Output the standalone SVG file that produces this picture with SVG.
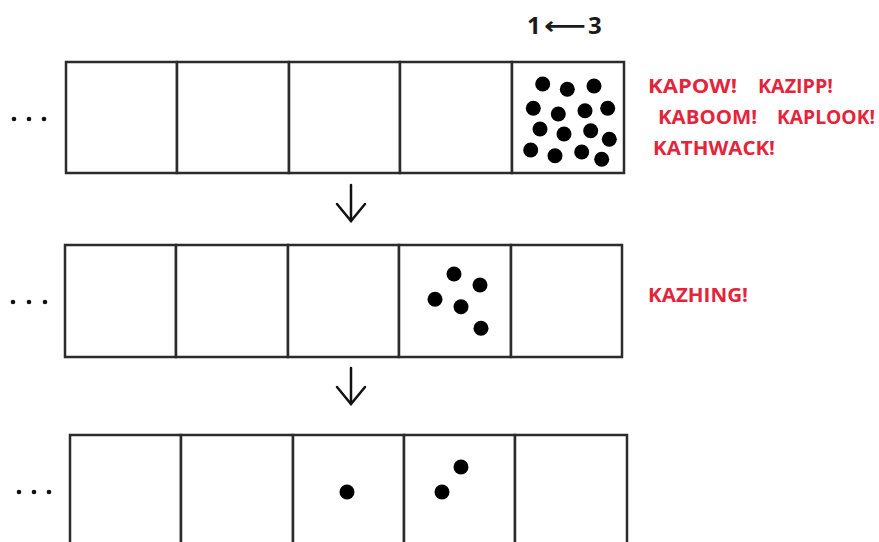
<svg xmlns="http://www.w3.org/2000/svg" width="879" height="542" viewBox="0 0 879 542">
  <style>
    .cell { fill: #ffffff; stroke: #2b2b2b; stroke-width: 2.5; }
    .ball { fill: #000000; }
    .ell { fill: #111111; }
    .snd { font-family: "Open Sans", "Liberation Sans", sans-serif; font-weight: bold; font-size: 20px; fill: #e3243b; }
    .lbl { font-family: "Open Sans", "Liberation Sans", sans-serif; font-weight: bold; font-size: 24px; fill: #1a1a1a; }
    .conn { fill: none; stroke: #111111; stroke-width: 2.5; stroke-linecap: round; stroke-linejoin: round; }
  </style>
  <defs>
    <marker id="chev" markerUnits="userSpaceOnUse" markerWidth="40" markerHeight="40" refX="0" refY="0" orient="auto" overflow="visible" viewBox="-20 -20 40 40">
      <path d="M -17 -14 L 0 0 L -17 14" fill="none" stroke="#111111" stroke-width="2.5" stroke-linecap="round" stroke-linejoin="miter"/>
    </marker>
  </defs>
  <rect x="0" y="0" width="879" height="542" fill="#ffffff"/>

  <g id="label-top">
    <text class="lbl" y="34"><tspan x="527">1</tspan><tspan x="544" font-family="DejaVu Sans, sans-serif" font-weight="bold" textLength="42" lengthAdjust="spacingAndGlyphs">⟵</tspan><tspan x="588">3</tspan></text>
  </g>

  <g id="row1">
    <rect class="cell" x="66" y="62" width="111" height="111"/>
    <rect class="cell" x="177" y="62" width="112" height="111"/>
    <rect class="cell" x="289" y="62" width="111" height="111"/>
    <rect class="cell" x="400" y="62" width="112" height="111"/>
    <rect class="cell" x="512" y="62" width="112" height="111"/>
    <circle class="ell" cx="14" cy="119" r="2.3"/>
    <circle class="ell" cx="29" cy="119" r="2.3"/>
    <circle class="ell" cx="44" cy="119" r="2.3"/>
    <circle class="ball" cx="542.7" cy="84" r="7.5"/>
    <circle class="ball" cx="567.3" cy="89.3" r="7.5"/>
    <circle class="ball" cx="594" cy="86" r="7.5"/>
    <circle class="ball" cx="533.3" cy="108.3" r="7.5"/>
    <circle class="ball" cx="558.3" cy="114" r="7.5"/>
    <circle class="ball" cx="585" cy="110.7" r="7.5"/>
    <circle class="ball" cx="607.7" cy="108.3" r="7.5"/>
    <circle class="ball" cx="540" cy="129" r="7.5"/>
    <circle class="ball" cx="564" cy="134" r="7.5"/>
    <circle class="ball" cx="590.7" cy="130.7" r="7.5"/>
    <circle class="ball" cx="609.3" cy="139.3" r="7.5"/>
    <circle class="ball" cx="530.7" cy="150" r="7.5"/>
    <circle class="ball" cx="555" cy="155.7" r="7.5"/>
    <circle class="ball" cx="581.7" cy="152" r="7.5"/>
    <circle class="ball" cx="601.7" cy="159.3" r="7.5"/>
  </g>

  <g id="sounds1">
    <text class="snd" x="648" y="93" textLength="89" lengthAdjust="spacingAndGlyphs">KAPOW!</text>
    <text class="snd" x="758" y="93" textLength="75" lengthAdjust="spacingAndGlyphs">KAZIPP!</text>
    <text class="snd" x="658" y="124" textLength="99" lengthAdjust="spacingAndGlyphs">KABOOM!</text>
    <text class="snd" x="777" y="124" textLength="98" lengthAdjust="spacingAndGlyphs">KAPLOOK!</text>
    <text class="snd" x="653" y="155" textLength="122" lengthAdjust="spacingAndGlyphs">KATHWACK!</text>
  </g>

  <g id="row2">
    <rect class="cell" x="65" y="245" width="111" height="112"/>
    <rect class="cell" x="176" y="245" width="112" height="112"/>
    <rect class="cell" x="288" y="245" width="111" height="112"/>
    <rect class="cell" x="399" y="245" width="112" height="112"/>
    <rect class="cell" x="511" y="245" width="111" height="112"/>
    <circle class="ell" cx="13" cy="302" r="2.3"/>
    <circle class="ell" cx="29" cy="302" r="2.3"/>
    <circle class="ell" cx="45" cy="302" r="2.3"/>
    <circle class="ball" cx="454" cy="274" r="7.5"/>
    <circle class="ball" cx="480" cy="285" r="7.5"/>
    <circle class="ball" cx="435" cy="299.3" r="7.5"/>
    <circle class="ball" cx="461" cy="306.7" r="7.5"/>
    <circle class="ball" cx="481" cy="328.3" r="7.5"/>
  </g>

  <g id="sounds2">
    <text class="snd" x="648" y="302" textLength="100" lengthAdjust="spacingAndGlyphs">KAZHING!</text>
  </g>

  <g id="row3">
    <rect class="cell" x="70" y="435" width="111" height="130"/>
    <rect class="cell" x="181" y="435" width="112" height="130"/>
    <rect class="cell" x="293" y="435" width="111" height="130"/>
    <rect class="cell" x="404" y="435" width="111" height="130"/>
    <rect class="cell" x="515" y="435" width="112" height="130"/>
    <circle class="ell" cx="19" cy="492" r="2.3"/>
    <circle class="ell" cx="34" cy="492" r="2.3"/>
    <circle class="ell" cx="49" cy="492" r="2.3"/>
    <circle class="ball" cx="347" cy="492" r="7.5"/>
    <circle class="ball" cx="461" cy="467" r="7.5"/>
    <circle class="ball" cx="442" cy="492" r="7.5"/>
  </g>

  <g id="connectors">
    <path class="conn" d="M 351 185 L 351 221" marker-end="url(#chev)"/>
    <path class="conn" d="M 351 368 L 351 404" marker-end="url(#chev)"/>
  </g>
</svg>
